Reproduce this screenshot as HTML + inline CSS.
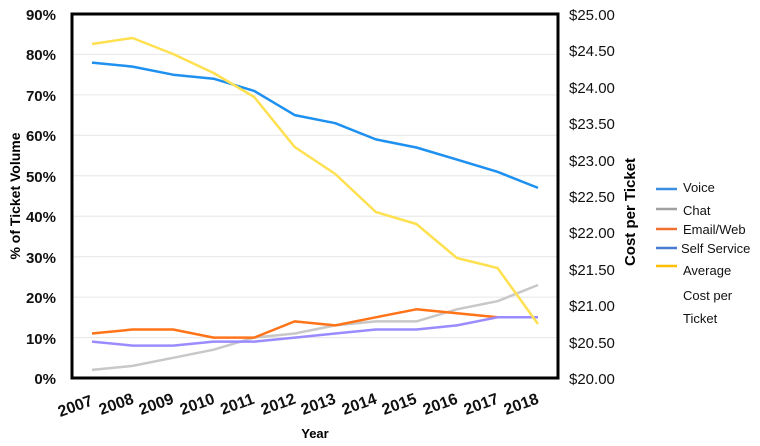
<!DOCTYPE html>
<html><head><style>body{margin:0;background:#fff}svg{display:block;font-family:"Liberation Sans",Arial,sans-serif}</style></head>
<body>
<svg width="760" height="446" viewBox="0 0 760 446">
<g stroke="#e6e6e6" stroke-width="1">
<line x1="72" x2="558" y1="54.4" y2="54.4"/><line x1="72" x2="558" y1="94.9" y2="94.9"/><line x1="72" x2="558" y1="135.3" y2="135.3"/><line x1="72" x2="558" y1="175.8" y2="175.8"/><line x1="72" x2="558" y1="216.2" y2="216.2"/><line x1="72" x2="558" y1="256.7" y2="256.7"/><line x1="72" x2="558" y1="297.1" y2="297.1"/><line x1="72" x2="558" y1="337.6" y2="337.6"/>
</g>
<g fill="none" stroke-width="2.5" stroke-linejoin="round">
<polyline stroke="#c8c8c8" points="92,369.9 132.5,365.9 173.1,357.8 213.6,349.7 254.2,337.6 294.7,333.5 335.3,325.4 375.8,321.4 416.4,321.4 456.9,309.3 497.5,301.2 538,285"/>
<polyline stroke="#ff7319" points="92,333.5 132.5,329.5 173.1,329.5 213.6,337.6 254.2,337.6 294.7,321.4 335.3,325.4 375.8,317.3 416.4,309.3 456.9,313.3 497.5,317.3"/>
<polyline stroke="#9a8cff" points="92,341.6 132.5,345.6 173.1,345.6 213.6,341.6 254.2,341.6 294.7,337.6 335.3,333.5 375.8,329.5 416.4,329.5 456.9,325.4 497.5,317.3 538,317.3"/>
<polyline stroke="#1e90f0" points="92,62.6 132.5,66.6 173.1,74.7 213.6,78.7 254.2,90.9 294.7,115.1 335.3,123.2 375.8,139.4 416.4,147.5 456.9,159.6 497.5,171.8 538,187.9"/>
<polyline stroke="#ffe050" points="92,44 132.5,38 173.1,54 213.6,73 254.2,97 294.7,147 335.3,174 375.8,212 416.4,224 456.9,258 497.5,268 538,324"/>
</g>
<rect x="72" y="14" width="486" height="364" fill="none" stroke="#000" stroke-width="3"/>
<g font-size="15" font-weight="bold" text-anchor="end" fill="#111">
<text x="56" y="20">90%</text><text x="56" y="60">80%</text><text x="56" y="101">70%</text><text x="56" y="141">60%</text><text x="56" y="182">50%</text><text x="56" y="222">40%</text><text x="56" y="263">30%</text><text x="56" y="303">20%</text><text x="56" y="344">10%</text><text x="56" y="384">0%</text>
</g>
<g font-size="15" fill="#111">
<text x="569" y="20">$25.00</text><text x="569" y="56">$24.50</text><text x="569" y="93">$24.00</text><text x="569" y="129">$23.50</text><text x="569" y="166">$23.00</text><text x="569" y="202">$22.50</text><text x="569" y="238">$22.00</text><text x="569" y="275">$21.50</text><text x="569" y="311">$21.00</text><text x="569" y="348">$20.50</text><text x="569" y="384">$20.00</text>
</g>
<g font-size="16" font-weight="bold" fill="#111" text-anchor="middle">
<text transform="translate(77,411) rotate(-20)">2007</text><text transform="translate(118,409) rotate(-20)">2008</text><text transform="translate(158,409) rotate(-20)">2009</text><text transform="translate(199,409) rotate(-20)">2010</text><text transform="translate(239,409) rotate(-20)">2011</text><text transform="translate(280,409) rotate(-20)">2012</text><text transform="translate(320,409) rotate(-20)">2013</text><text transform="translate(361,409) rotate(-20)">2014</text><text transform="translate(401,409) rotate(-20)">2015</text><text transform="translate(442,409) rotate(-20)">2016</text><text transform="translate(483,409) rotate(-20)">2017</text><text transform="translate(523,409) rotate(-20)">2018</text>
</g>
<text x="315" y="438" font-size="13" font-weight="bold" text-anchor="middle">Year</text>
<text transform="translate(20,196) rotate(-90)" font-size="14" font-weight="bold" text-anchor="middle">% of Ticket Volume</text>
<text transform="translate(635,212) rotate(-90)" font-size="15" font-weight="bold" text-anchor="middle">Cost per Ticket</text>
<g stroke-width="2.5">
<line x1="656" x2="677" y1="189" y2="189" stroke="#3a8fe0"/>
<line x1="656" x2="677" y1="209" y2="209" stroke="#a0a0a0"/>
<line x1="656" x2="677" y1="229" y2="229" stroke="#f07030"/>
<line x1="656" x2="677" y1="248" y2="248" stroke="#4a7ad0"/>
<line x1="656" x2="677" y1="266" y2="266" stroke="#ffc000"/>
</g>
<g font-size="13" fill="#111">
<text x="683" y="192">Voice</text><text x="683" y="215">Chat</text><text x="683" y="234">Email/Web</text><text x="681" y="253">Self Service</text><text x="683" y="275">Average</text><text x="683" y="300">Cost per</text><text x="683" y="323">Ticket</text>
</g>
</svg>
</body></html>
